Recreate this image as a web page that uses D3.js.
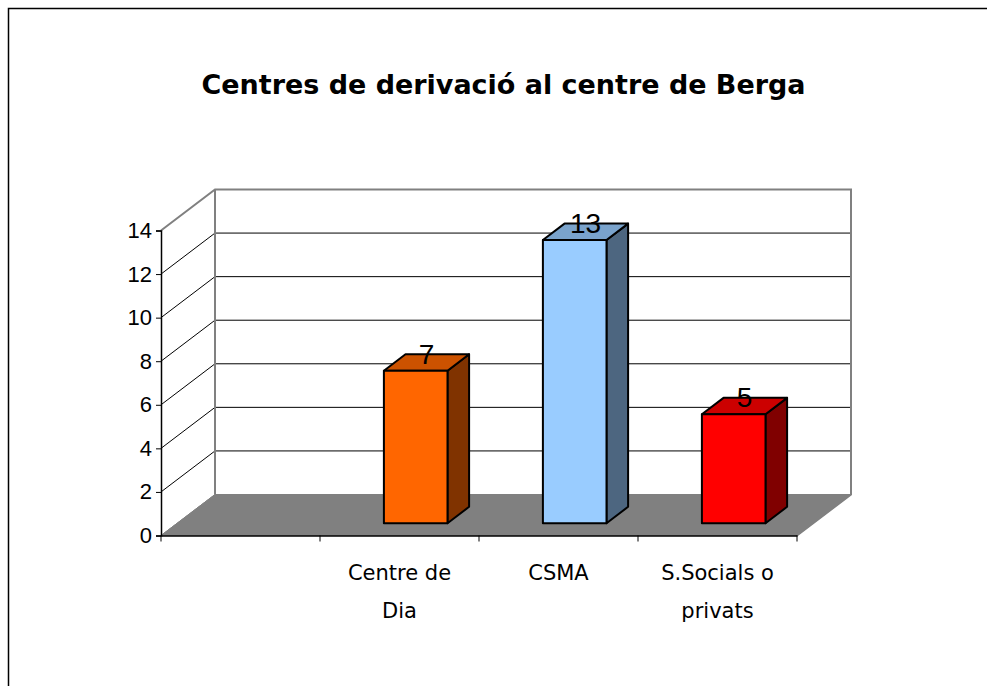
<!DOCTYPE html>
<html>
<head>
<meta charset="utf-8">
<script src="https://cdn.jsdelivr.net/npm/d3@7"></script>
<style>
html,body{margin:0;padding:0;background:#fff;}
svg{display:block;}
</style>
</head>
<body>
<svg id="chart" width="987" height="686"></svg>
<script>
// ---- data ----
const title = "Centres de derivació al centre de Berga";
const categories = ["", "Centre de Dia", "CSMA", "S.Socials o privats"];
const categoryLines = [[], ["Centre de", "Dia"], ["CSMA"], ["S.Socials o", "privats"]];
const values = [null, 7, 13, 5];
const yTicks = [0, 2, 4, 6, 8, 10, 12, 14];
const frontColors = [null, "#FF6600", "#99CCFF", "#FF0000"];
const topColors = [null, "#CC5200", "#7AA3CC", "#CC0000"];
const sideColors = [null, "#803300", "#4D6680", "#800000"];

// ---- layout ----
const svg = d3.select("#chart");
const x = d3.scaleBand().domain(categories).range([161, 797]).padding(0);
const y = d3.scaleLinear().domain([0, 14]).range([535.5, 230.5]);
const DX = 54, DY = -41;          // depth offset of back wall
const x0 = x.range()[0], x1 = x.range()[1];
const yB = y(0);

// outer border
svg.append("rect").attr("x", 8.5).attr("y", 8.5).attr("width", 1100).attr("height", 1100)
  .attr("fill", "none").attr("stroke", "#000").attr("stroke-width", 1.5);

// title
svg.append("text").attr("x", 503.5).attr("y", 94).attr("text-anchor", "middle")
  .attr("font-family", "'DejaVu Sans', sans-serif").attr("font-weight", "bold")
  .attr("font-size", 26).attr("textLength", 604).attr("lengthAdjust", "spacingAndGlyphs")
  .text(title);

// floor
svg.append("polygon")
  .attr("points", [[x0, yB], [x0 + DX, yB + DY], [x1 + DX, yB + DY], [x1, yB]].map(p => p.join(",")).join(" "))
  .attr("fill", "#808080").attr("stroke", "#808080").attr("stroke-width", 1);

// back wall gridlines and side-wall diagonals
const grid = svg.append("g");
yTicks.filter(t => t > 0 && t < 14).forEach(t => {
  grid.append("line").attr("x1", x0 + DX).attr("x2", x1 + DX)
    .attr("y1", y(t) + DY).attr("y2", y(t) + DY).attr("stroke", "#000").attr("stroke-width", 1);
  grid.append("line").attr("x1", x0).attr("x2", x0 + DX)
    .attr("y1", y(t)).attr("y2", y(t) + DY).attr("stroke", "#000").attr("stroke-width", 1);
});
grid.append("line").attr("x1", x0).attr("x2", x0 + DX)
  .attr("y1", y(0)).attr("y2", y(0) + DY).attr("stroke", "#808080").attr("stroke-width", 1);

// wall outlines (gray)
const wallStroke = "#808080";
svg.append("path")
  .attr("d", `M${x0},${y(14)} L${x0 + DX},${y(14) + DY} L${x1 + DX},${y(14) + DY} L${x1 + DX},${yB + DY} L${x1},${yB}`)
  .attr("fill", "none").attr("stroke", wallStroke).attr("stroke-width", 2);
svg.append("line").attr("x1", x0 + DX).attr("x2", x0 + DX).attr("y1", y(14) + DY).attr("y2", yB + DY)
  .attr("stroke", wallStroke).attr("stroke-width", 2);

// bars
const bw = x.bandwidth();
const fracFront = 0.3, fracBack = 0.7;
const bars = svg.append("g");
categories.forEach((c, i) => {
  const v = values[i];
  if (v == null) return;
  const fx0 = x(c) + bw * 0.3 + fracFront * DX;
  const fx1 = fx0 + bw * 0.4;
  const fyb = yB + fracFront * DY;
  const fyt = y(v) + fracFront * DY;
  const ddx = (fracBack - fracFront) * DX, ddy = (fracBack - fracFront) * DY;
  const st = {"stroke": "#000", "stroke-width": 2, "stroke-linejoin": "round"};
  const side = bars.append("polygon")
    .attr("points", [[fx1, fyb], [fx1, fyt], [fx1 + ddx, fyt + ddy], [fx1 + ddx, fyb + ddy]].map(p => p.join(",")).join(" "))
    .attr("fill", sideColors[i]);
  const top = bars.append("polygon")
    .attr("points", [[fx0, fyt], [fx0 + ddx, fyt + ddy], [fx1 + ddx, fyt + ddy], [fx1, fyt]].map(p => p.join(",")).join(" "))
    .attr("fill", topColors[i]);
  const front = bars.append("rect").attr("x", fx0).attr("y", fyt).attr("width", fx1 - fx0).attr("height", fyb - fyt)
    .attr("fill", frontColors[i]);
  [side, top, front].forEach(s => Object.entries(st).forEach(([k, val]) => s.attr(k, val)));
  bars.append("text").attr("x", (fx0 + fx1) / 2 + ddx / 2).attr("y", fyt - 7)
    .attr("text-anchor", "middle").attr("font-family", "'Liberation Sans', Arial, sans-serif")
    .attr("font-size", 28).attr("fill", "#000").text(v);
});

// y axis
const yAxis = d3.axisLeft(y).tickValues(yTicks).tickSize(5).tickPadding(4).tickFormat(d3.format("d"));
const ya = svg.append("g").attr("transform", `translate(${x0},0)`).call(yAxis);
ya.select(".domain").attr("stroke", "#000").attr("stroke-width", 1.5);
ya.selectAll(".tick line").attr("stroke", "#000").attr("stroke-width", 1);
ya.selectAll(".tick text").attr("font-family", "'Liberation Sans', Arial, sans-serif")
  .attr("font-size", 22).attr("fill", "#000");

// x axis
const xAxis = d3.axisBottom(x).tickSize(0).tickFormat("");
const xa = svg.append("g").attr("transform", `translate(0,${yB})`).call(xAxis);
xa.select(".domain").attr("stroke", "#000").attr("stroke-width", 1.5);
const xTickPos = categories.map(c => x(c)).concat([x1]);
xa.selectAll(".sep").data(xTickPos).join("line").attr("class", "sep")
  .attr("x1", d => d).attr("x2", d => d).attr("y1", 0).attr("y2", 6)
  .attr("stroke", "#000").attr("stroke-width", 1);

// category labels
categories.forEach((c, i) => {
  const lines = categoryLines[i];
  const t = svg.append("text").attr("text-anchor", "middle")
    .attr("font-family", "'DejaVu Sans', sans-serif").attr("font-size", 21).attr("fill", "#000");
  lines.forEach((ln, j) => {
    t.append("tspan").attr("x", x(c) + bw / 2).attr("y", 580 + j * 38).text(ln);
  });
});
</script>
</body>
</html>
